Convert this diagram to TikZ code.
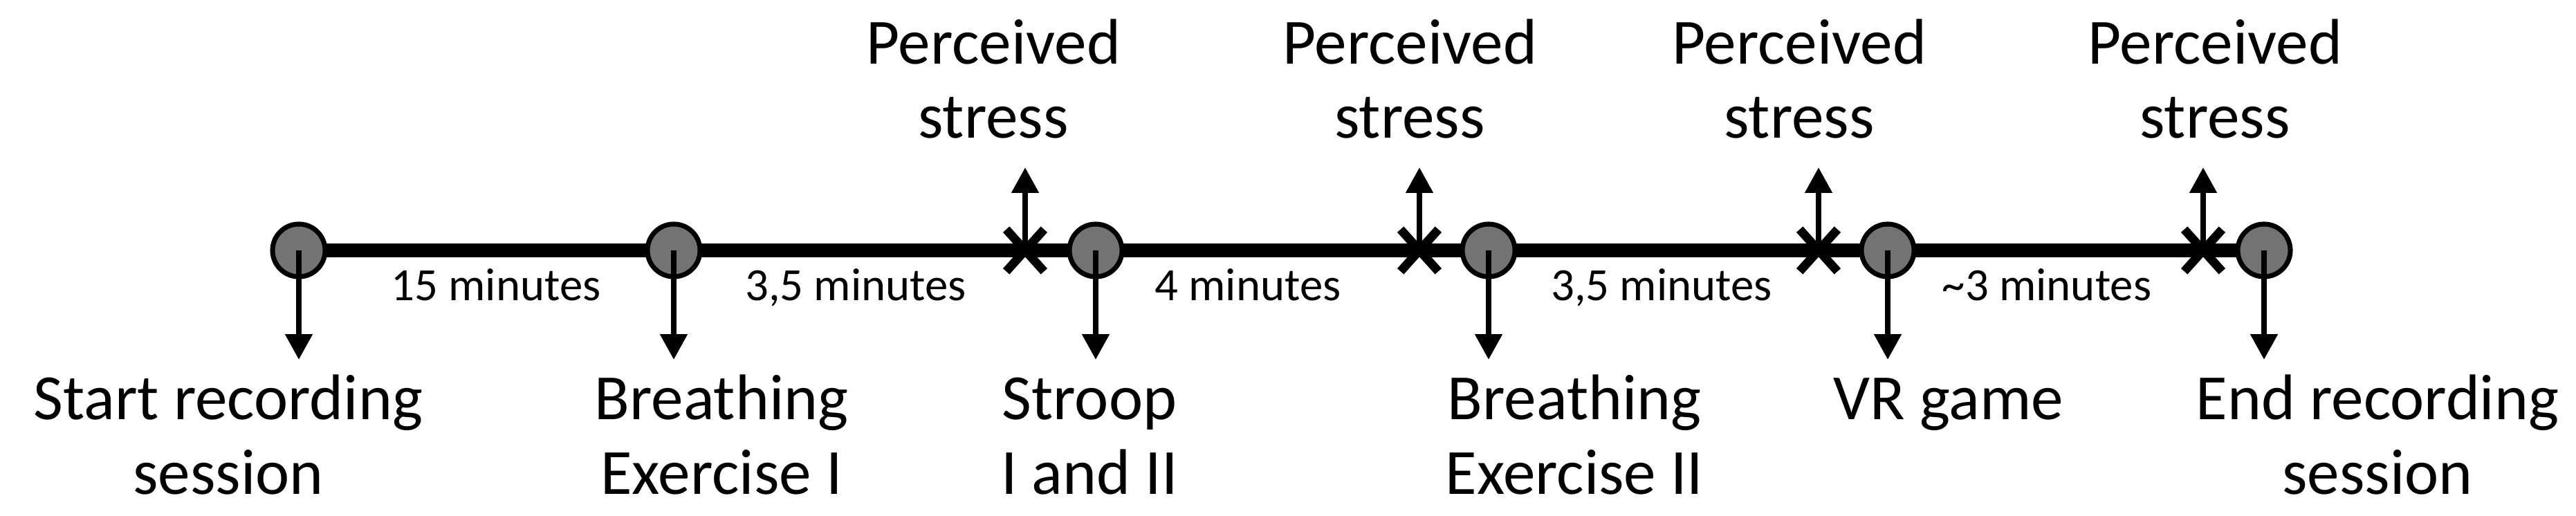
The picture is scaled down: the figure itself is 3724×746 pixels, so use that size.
\documentclass[tikz,border=0pt]{standalone}
\usepackage{fontspec}
\setmainfont{Carlito}
\usetikzlibrary{arrows.meta,shapes.misc,backgrounds}
\tikzset{
	event/.style={circle,draw,line width=2pt,fill=black!55,minimum size=0.76cm,inner sep=0pt},
	stressmark/.style={cross out,draw,line width=3.6pt,minimum width=0.42cm,minimum height=0.48cm,inner sep=0pt},
	track/.style={line width=5.9pt},
	arr/.style={line width=2.3pt,-{Triangle[width=10.8pt,length=10.5pt]}},
	lbl/.style={font=\fontsize{26.5}{30.7}\selectfont,align=center,anchor=base,inner sep=0pt},
	dur/.style={font=\fontsize{19}{22}\selectfont,anchor=base,inner sep=0pt}
}
\begin{document}
\begin{tikzpicture}[x=0.01cm,y=-0.01cm]
		\useasboundingbox (0,0) rectangle (3724,746);
		
		%events
		\node[event](ev1) at (432,362) {};
		\node[event](ev2) at (974,362) {};
		\node[event](ev3) at (1584,362) {};
		\node[event](ev4) at (2152,362) {};
		\node[event](ev5) at (2729,362) {};
		\node[event](ev6) at (3273,362) {};
		\begin{scope}[on background layer]
		\draw[track] (ev1.center) -- (ev6.center);
		\end{scope}
		%stress marks
		\node[stressmark](mk1) at (1482,362) {};
		\node[stressmark](mk2) at (2052,362) {};
		\node[stressmark](mk3) at (2629,362) {};
		\node[stressmark](mk4) at (3185,362) {};
		
		%arrow ends
		\coordinate (d1) at (432,520);
		\coordinate (d2) at (974,520);
		\coordinate (d3) at (1584,520);
		\coordinate (d4) at (2152,520);
		\coordinate (d5) at (2729,520);
		\coordinate (d6) at (3273,520);
		\coordinate (u1) at (1482,242);
		\coordinate (u2) at (2052,242);
		\coordinate (u3) at (2629,242);
		\coordinate (u4) at (3185,242);
		%arrows
		\draw[arr] (ev1.center) -- (d1);
		\draw[arr] (ev2.center) -- (d2);
		\draw[arr] (ev3.center) -- (d3);
		\draw[arr] (ev4.center) -- (d4);
		\draw[arr] (ev5.center) -- (d5);
		\draw[arr] (ev6.center) -- (d6);
		\draw[arr] (mk1.center) -- (u1);
		\draw[arr] (mk2.center) -- (u2);
		\draw[arr] (mk3.center) -- (u3);
		\draw[arr] (mk4.center) -- (u4);
		
		%durations
		\node[dur](t1) at (717,435) {15 minutes};
		\node[dur](t2) at (1237,435) {3,5 minutes};
		\node[dur](t3) at (1804,435) {4 minutes};
		\node[dur](t4) at (2402,435) {3,5 minutes};
		\node[dur](t5) at (2959,435) {\textasciitilde3 minutes};
		%labels (base = last line)
		\node[lbl](ps1) at (1436,200) {Perceived\\stress};
		\node[lbl](ps2) at (2038,200) {Perceived\\stress};
		\node[lbl](ps3) at (2601,200) {Perceived\\stress};
		\node[lbl](ps4) at (3202,200) {Perceived\\stress};
		\node[lbl](start) at (330,714) {Start recording\\session};
		\node[lbl](breath1) at (1043,714) {Breathing\\Exercise I};
		\node[lbl](stroop) at (1575,714) {Stroop\\I and II};
		\node[lbl](breath2) at (2276,714) {Breathing\\Exercise II};
		\node[lbl](vr) at (2817,606) {VR game};
		\node[lbl](end) at (3437,714) {End recording\\session};
\end{tikzpicture}
\end{document}
